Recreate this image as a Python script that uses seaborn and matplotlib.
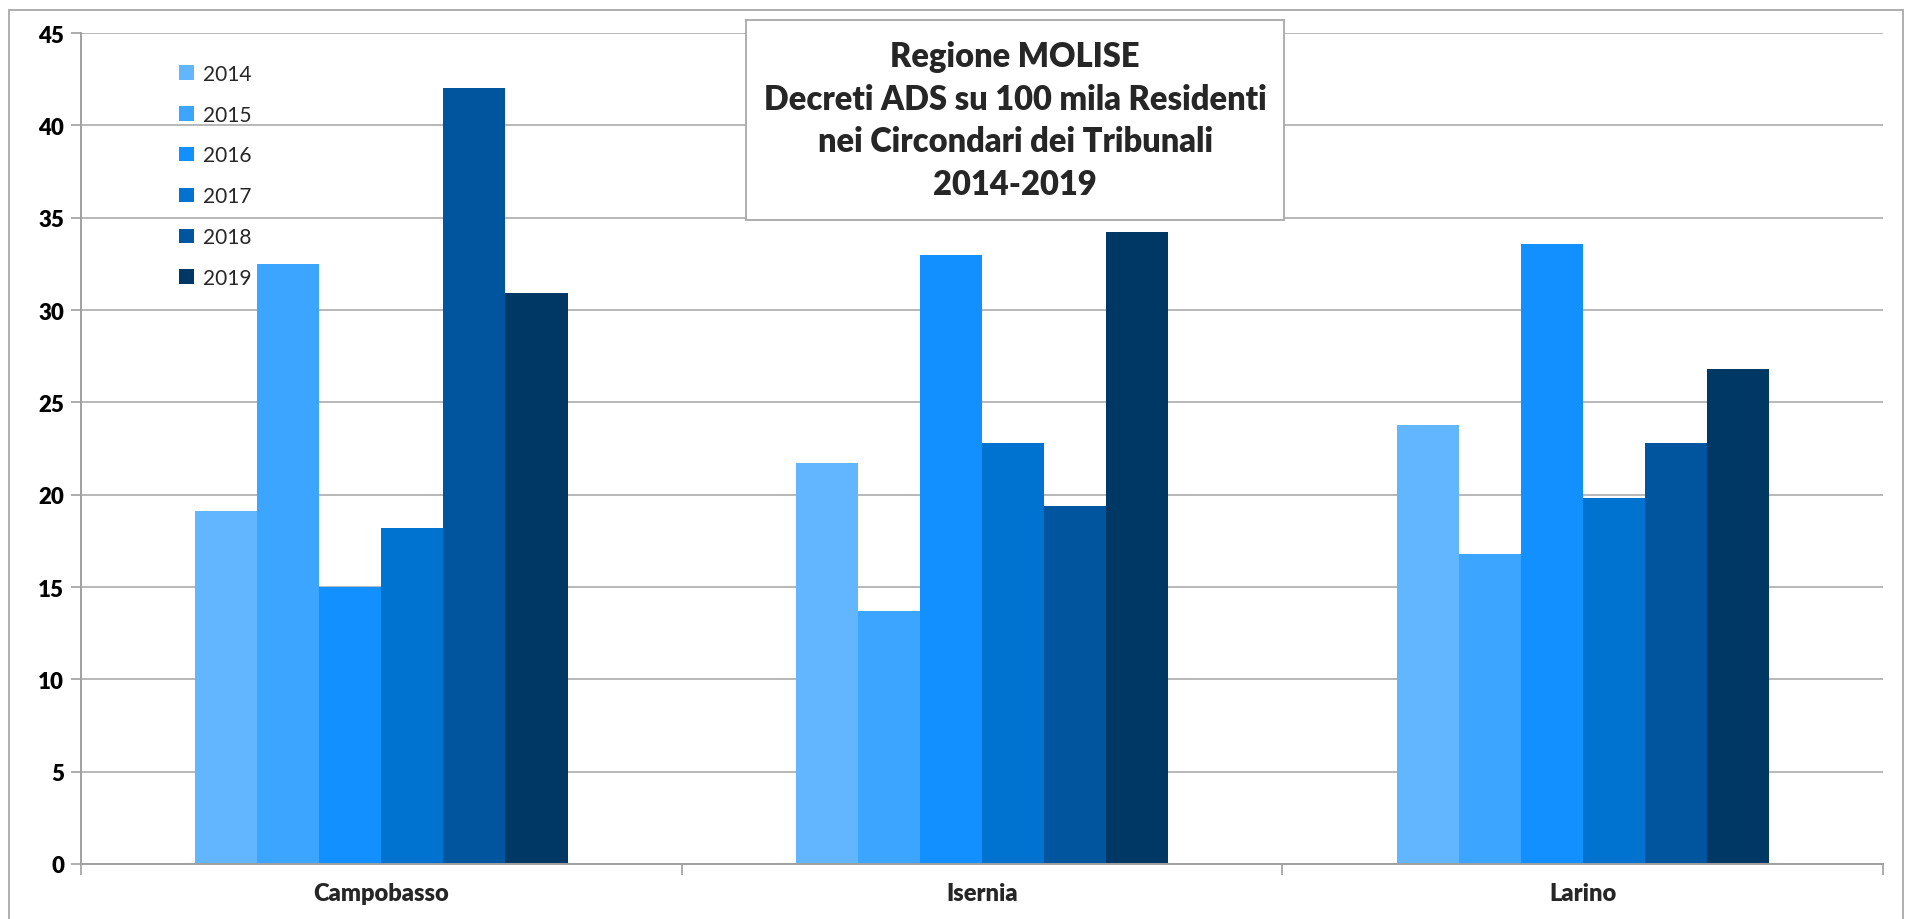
import numpy as np
import pandas as pd
import matplotlib
matplotlib.use("Agg")
import matplotlib.pyplot as plt
import seaborn as sns
from matplotlib.patches import Rectangle

# Data
tribunali = ["Campobasso", "Isernia", "Larino"]
anni = ["2014", "2015", "2016", "2017", "2018", "2019"]
v_2014 = [19.1, 21.7, 23.8]
v_2015 = [32.5, 13.7, 16.8]
v_2016 = [15.0, 33.0, 33.6]
v_2017 = [18.2, 22.8, 19.8]
v_2018 = [42.0, 19.4, 22.8]
v_2019 = [30.9, 34.2, 26.8]

colori = ["#62B6FF", "#3BA5FF", "#1290FF", "#0072CF", "#00569E", "#003865"]

titolo = "Regione MOLISE\nDecreti ADS su 100 mila Residenti\nnei Circondari dei Tribunali\n2014-2019"


def main():
    sns.set_theme(style="white")
    plt.rcParams['font.family'] = ['Lato', 'DejaVu Sans']

    serie = [v_2014, v_2015, v_2016, v_2017, v_2018, v_2019]
    rows = []
    for anno, valori in zip(anni, serie):
        for trib, v in zip(tribunali, valori):
            rows.append({"Tribunale": trib, "Anno": anno, "Valore": v})
    df = pd.DataFrame(rows)

    fig = plt.figure(figsize=(19.05, 9.2), dpi=100)
    ax = fig.add_axes([0.0425, 0.0598, 0.946, 0.9032])

    sns.barplot(data=df, x="Tribunale", y="Valore", hue="Anno",
                hue_order=anni, order=tribunali, palette=colori, saturation=1,
                width=0.62, gap=0, linewidth=0, errorbar=None, ax=ax)

    ax.set_xlim(-0.5, 2.5)
    ax.set_ylim(0, 45)
    ax.set_yticks(np.arange(0, 46, 5))
    ax.set_yticklabels([str(t) for t in range(0, 46, 5)],
                       fontsize=16, fontweight='heavy', color='black')
    ax.yaxis.grid(True, color='#b8b8b8', linewidth=1.4)
    ax.set_axisbelow(True)

    # category boundaries as ticks, labels at centres
    ax.set_xticks([-0.5, 0.5, 1.5, 2.5])
    ax.set_xticklabels([])
    ax.set_xticks([0, 1, 2], minor=True)
    ax.set_xticklabels(tribunali, minor=True, fontsize=17, fontweight='heavy')
    ax.tick_params(axis='x', which='minor', length=0, pad=13)
    ax.tick_params(axis='x', which='major', length=8, width=1.2, color='#a0a0a0', direction='out')
    ax.tick_params(axis='y', length=7, width=1.2, color='#a0a0a0', direction='out', pad=5)
    ax.tick_params(bottom=True, left=True)

    for s in ['top', 'right']:
        ax.spines[s].set_visible(False)
    for s in ['left', 'bottom']:
        ax.spines[s].set_color('#a0a0a0')
        ax.spines[s].set_linewidth(1.4)

    ax.set_xlabel("")
    ax.set_ylabel("")

    ax.legend(loc='upper left', bbox_to_anchor=(0.05, 0.973), frameon=False,
              fontsize=15, handlelength=0.7, handleheight=0.7,
              labelspacing=1.0, handletextpad=0.45, borderaxespad=0)

    # title box
    box = Rectangle((0.3916, 0.7598), 0.2824, 0.2174, transform=fig.transFigure,
                    facecolor='white', edgecolor='#a8a8a8', linewidth=1.3, zorder=5)
    fig.patches.append(box)
    fig.text(0.5329, 0.8685, titolo, ha='center', va='center', fontsize=23.5,
             fontweight='heavy', linespacing=1.42, zorder=6)

    # outer sheet frame
    frame = Rectangle((9 / 1905, -0.05), 1 - 11 / 1905, 1.05 - 11 / 920,
                      transform=fig.transFigure, facecolor='none',
                      edgecolor='#a8a8a8', linewidth=1.3)
    fig.patches.append(frame)

    fig.savefig("out.png", dpi=100)


if __name__ == "__main__":
    main()
